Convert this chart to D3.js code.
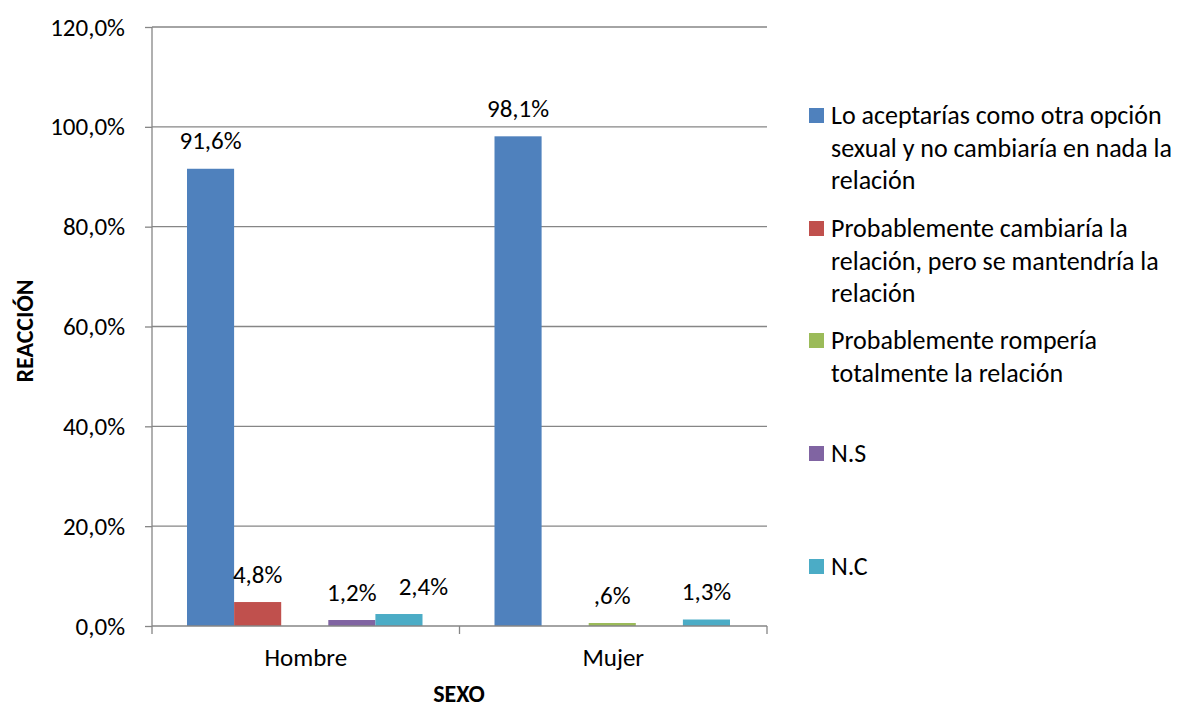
<!DOCTYPE html>
<html><head><meta charset="utf-8">
<script src="https://cdn.jsdelivr.net/npm/d3@7"></script>
<style>
body{margin:0;background:#fff;}
text{font-family:Carlito,Lato,"Open Sans",sans-serif;fill:#000;}
</style></head><body>
<svg id="c" width="1181" height="708"></svg>
<script>
const categories = ["Hombre","Mujer"];
const seriesNames = [
  "Lo aceptarías como otra opción sexual y no cambiaría en nada la relación",
  "Probablemente cambiaría la relación, pero se mantendría la relación",
  "Probablemente rompería totalmente la relación",
  "N.S",
  "N.C"
];
const legendLines = [
  ["Lo aceptarías como otra opción","sexual y no cambiaría en nada la","relación"],
  ["Probablemente cambiaría la","relación, pero se mantendría la","relación"],
  ["Probablemente rompería","totalmente la relación"],
  ["N.S"],
  ["N.C"]
];
const colors = ["#4F81BD","#C0504D","#9BBB59","#8064A2","#4BACC6"];
// values per series: [Hombre, Mujer]; null = no bar
const s1 = [91.6, 98.1];
const s2 = [4.8, null];
const s3 = [null, 0.6];
const s4 = [1.2, null];
const s5 = [2.4, 1.3];
const seriesValues = [s1,s2,s3,s4,s5];
const yTicks = [0,20,40,60,80,100,120];

const FS = "25px";
const svg = d3.select("#c");
const L=152,R=767,T=27,B=626;
const x0 = d3.scaleBand().domain(categories).range([L,R]).paddingInner(0).paddingOuter(0);
const x1 = d3.scaleBand().domain(d3.range(5)).range([35,x0.bandwidth()-37]);
const y = d3.scaleLinear().domain([0,120]).range([B,T]);
const fmt = v => { let s=v.toFixed(1).replace('.',','); if(s.startsWith("0,")) s=s.slice(1); return s+"%"; };

// gridlines
svg.append("g").selectAll("line").data(yTicks.filter(d=>d>0)).join("line")
  .attr("x1",L).attr("x2",R).attr("y1",d=>y(d)).attr("y2",d=>y(d))
  .attr("stroke","#868686").attr("stroke-width",1.3);

// y axis
const ya = svg.append("g").attr("transform",`translate(${L},0)`)
  .call(d3.axisLeft(y).tickValues(yTicks).tickSize(7).tickPadding(20).tickFormat(d=>d.toFixed(1).replace('.',',')+"%"));
ya.select(".domain").attr("stroke","#868686").attr("stroke-width",1.3).attr("d",`M0,${B}V${T}`);
ya.selectAll(".tick line").attr("stroke","#868686").attr("stroke-width",1.3);
ya.selectAll(".tick text").style("font-size",FS).attr("fill","#000");

// bars
const groups = svg.append("g").selectAll("g").data(categories).join("g")
  .attr("transform",d=>`translate(${x0(d)},0)`);
groups.each(function(cat,ci){
  const g=d3.select(this);
  let prev = null;
  seriesValues.forEach((vals,si)=>{
    const v=vals[ci];
    if(v==null) return;
    g.append("rect").attr("x",x1(si)).attr("width",x1.bandwidth())
      .attr("y",y(v)).attr("height",B-y(v)).attr("fill",colors[si]);
    const cx = x1(si)+x1.bandwidth()/2;
    const t = g.append("text").attr("x",cx).attr("y",y(v)-28)
      .attr("text-anchor","middle").attr("dominant-baseline","central")
      .style("font-size",FS).text(fmt(v));
    // avoid overlap with previous label: push right
    const bb = t.node().getBBox();
    let box = {x:bb.x, y:bb.y, w:bb.width, h:bb.height};
    if (prev && box.x < prev.x + prev.w + 20 && box.y < prev.y + prev.h && box.y + box.h > prev.y) {
      const shift = prev.x + prev.w + 22 - box.x;
      t.attr("x", cx + shift);
      box.x += shift;
    }
    prev = box;
  });
});

// x axis
const xa = svg.append("g").attr("transform",`translate(0,${B})`)
  .call(d3.axisBottom(x0).tickSize(0).tickPadding(22));
xa.select(".domain").attr("stroke","#868686").attr("stroke-width",1.3).attr("d",`M${L},0H${R}`);
xa.selectAll(".tick text").style("font-size",FS).attr("fill","#000");
svg.append("g").selectAll("line").data([L, L+x0.bandwidth(), R]).join("line")
  .attr("x1",d=>d).attr("x2",d=>d).attr("y1",B).attr("y2",B+8)
  .attr("stroke","#868686").attr("stroke-width",1.3);

// axis titles
svg.append("text").attr("x",459).attr("y",702).attr("text-anchor","middle")
  .style("font-size","24px").style("font-weight","bold").text("SEXO");
svg.append("text").attr("transform","translate(24,331) rotate(-90)").attr("text-anchor","middle").attr("dominant-baseline","central")
  .style("font-size","24px").style("font-weight","bold").text("REACCIÓN");

// legend
const legendTop = [115,228,340,453,566];
const lg = svg.append("g");
seriesNames.forEach((n,i)=>{
  lg.append("rect").attr("x",809).attr("y",legendTop[i]-7).attr("width",15).attr("height",15).attr("fill",colors[i]);
  const t = lg.append("text").attr("x",831).style("font-size","26px");
  legendLines[i].forEach((ln,j)=>{
    t.append("tspan").attr("x",831).attr("y",legendTop[i]+j*32.6).attr("dominant-baseline","central").text(ln);
  });
});
</script>
</body></html>
